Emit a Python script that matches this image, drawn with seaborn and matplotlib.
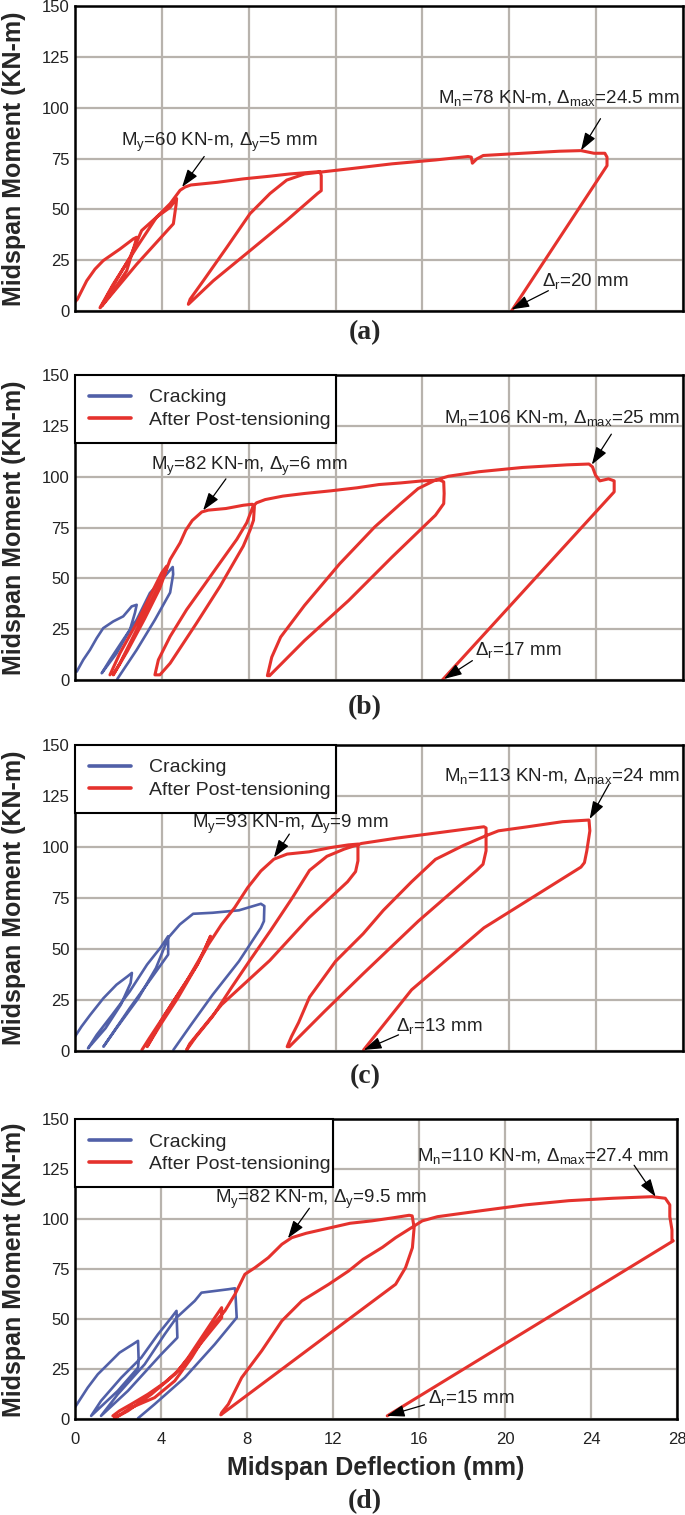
import matplotlib
matplotlib.use('Agg')
import pandas as pd
import matplotlib.pyplot as plt
from matplotlib.lines import Line2D
import seaborn as sns

# ---- data: midspan deflection (mm) vs moment (kN-m) ----
# (a) control beam, red only
a_red_x = [0.0, 0.11, 0.54, 0.92, 1.30, 2.07, 2.69, 2.84, 2.76, 2.38, 1.76, 1.23,
           1.61, 2.53, 3.07, 3.76, 4.38, 4.68,
           4.65, 4.53, 2.84, 1.30, 1.15,
           1.76, 2.84, 3.76, 4.38, 4.84, 5.07,
           5.34, 6.55, 7.75, 8.96, 9.87, 11.28,
           11.34, 11.34, 11.18, 9.75, 8.06, 6.37, 5.22,
           5.30, 5.91, 6.99, 8.06, 8.98, 9.75, 10.57, 11.28,
           12.6, 14.6, 16.6, 18.1, 18.25, 18.3, 18.5, 18.8, 20.6, 22.3, 23.3, 23.9,
           24.4, 24.5, 24.5, 20.1]
a_red_y = [4.5, 5.8, 14.9, 20.6, 24.8, 30.5, 35.5, 36.3, 33.0, 19.8, 9.9, 2.5,
           9.9, 26.4, 39.6, 46.2, 51.0, 55.3,
           52.0, 42.9, 23.0, 3.3, 1.6,
           13.2, 31.3, 46.2, 52.8, 59.4, 61.0,
           62.0, 63.3, 65.0, 66.3, 67.4, 68.6,
           66.6, 59.2, 57.9, 44.6, 29.7, 14.9, 3.3,
           5.8, 14.9, 31.3, 47.9, 57.8, 64.4, 67.4, 68.3,
           69.9, 72.4, 74.3, 76.0, 75.7, 72.7, 74.8, 76.5, 77.6, 78.6, 78.9, 77.6,
           77.6, 75.7, 71.5, 0.0]

# (b)
b_blue_x = [0.08, 0.38, 0.69, 1.00, 1.30, 1.76, 2.22, 2.61, 2.84, 2.76, 2.53, 1.92, 1.46, 1.23,
            1.61, 2.22, 2.84, 3.45, 4.07, 4.50, 4.52, 4.38, 3.68, 2.84, 1.95]
b_blue_y = [4.1, 9.9, 14.8, 20.6, 25.5, 28.8, 31.3, 36.2, 37.0, 33.0, 24.7, 13.2, 6.6, 3.3,
            9.9, 19.8, 29.6, 42.8, 50.2, 55.6, 52.0, 43.0, 29.6, 14.8, 0.5]
b_red_x = [1.61, 2.07, 2.84, 3.45, 3.99, 4.22, 4.15, 3.61, 2.84, 2.07, 1.76,
           2.40, 3.20, 3.90, 4.38, 4.84, 5.10, 5.40, 5.84, 6.14, 6.95, 7.75, 8.16,
           8.26, 8.22, 8.06, 7.75, 6.68, 5.60, 4.38, 3.91, 3.68,
           3.84, 4.38, 5.14, 5.91, 6.68, 7.45, 7.91, 8.20,
           8.36, 8.76, 9.57, 10.57, 11.78, 12.99, 14.0, 15.0, 16.0, 16.8, 16.98,
           17.0, 16.98, 16.6, 14.6, 12.6, 10.57, 8.96, 8.86,
           9.06, 9.47, 10.57, 12.19, 13.8, 15.0, 15.8, 16.6, 17.2,
           18.6, 20.6, 22.66, 23.67, 23.83, 23.97, 24.17, 24.57, 24.83, 24.83, 16.92]
b_red_y = [2.5, 13.2, 28.0, 41.2, 52.7, 56.0, 52.7, 41.2, 24.7, 8.2, 2.5,
           14.0, 30.0, 45.0, 59.3, 67.5, 73.7, 78.5, 82.7, 83.6, 84.4, 86.0, 86.5,
           85.2, 78.6, 73.7, 65.9, 46.1, 28.0, 8.2, 2.5, 2.5,
           9.9, 21.4, 34.6, 46.1, 57.7, 69.2, 77.4, 85.5,
           87.2, 88.8, 90.5, 91.8, 93.1, 94.6, 96.2, 97.0, 98.0, 98.4, 97.5,
           91.8, 86.8, 81.1, 60.5, 39.1, 19.4, 2.1, 2.1,
           11.2, 21.1, 36.7, 57.2, 75.3, 86.8, 94.2, 98.4, 100.3,
           102.5, 104.6, 105.9, 106.3, 104.9, 100.8, 98.0, 99.0, 98.0, 92.6, 0.0]

# (c)
c_blue_x = [0.0, 0.3, 0.7, 1.31, 1.91, 2.42, 2.62, 2.56, 2.11, 1.41, 0.6,
            1.0, 1.71, 2.52, 3.32, 3.93, 4.29,
            4.29, 3.52, 2.52, 1.31,
            1.91, 2.92, 3.73, 4.29, 4.83, 5.44, 6.34, 7.55, 8.56, 8.72, 8.70, 8.56,
            7.55, 6.34, 5.34, 4.53]
c_blue_y = [7.1, 12.0, 17.7, 25.9, 32.5, 36.6, 38.3, 33.3, 22.7, 11.2, 1.3,
            7.9, 17.7, 29.2, 42.4, 50.6, 56.3,
            47.3, 35.8, 21.0, 2.1,
            11.2, 25.9, 40.7, 55.5, 62.1, 67.3, 67.8, 69.0, 72.2, 71.1, 63.7, 60.4,
            44.0, 27.6, 12.8, 0.5]
c_red_x = [3.08, 3.42, 4.13, 4.93, 5.64, 6.14, 6.24,
           5.94, 5.14, 4.13, 3.32,
           3.93, 4.73, 5.54, 6.14, 6.75, 7.35, 7.95, 8.56, 9.16, 9.77, 10.78, 11.78, 12.59, 13.03,
           13.03, 12.92, 12.55, 10.78, 8.97, 6.75, 5.28, 5.14,
           5.54, 6.34, 7.20, 8.05, 9.00, 10.0, 10.8, 11.6, 12.39, 13.19,
           14.8, 16.82, 18.03, 18.83, 18.93,
           18.93, 18.79, 18.5, 15.81, 13.27, 11.5, 9.87, 9.77,
           9.97, 10.3, 10.8, 12.0, 13.27, 14.2, 15.5, 16.6, 17.9, 18.9, 19.5, 20.85, 22.46, 23.67,
           23.71, 23.57, 23.46, 23.3, 18.83, 15.5, 13.29]
c_red_y = [0.5, 6.2, 17.7, 30.9, 42.4, 53.9, 56.3,
           48.9, 34.2, 17.7, 2.1,
           12.8, 25.9, 40.7, 52.2, 62.1, 70.3, 80.1, 88.3, 94.1, 96.6, 97.7, 99.8, 101.1, 101.5,
           93.3, 88.0, 83.0, 65.4, 44.4, 22.7, 3.5, 0.5,
           6.5, 17.0, 31.0, 44.4, 59.0, 75.0, 88.6, 95.5, 99.0, 101.8,
           104.4, 107.2, 108.9, 110.0, 109.4,
           98.2, 91.6, 88.6, 63.7, 37.9, 19.5, 2.1, 2.1,
           7.1, 14.0, 26.4, 44.0, 57.5, 69.0, 83.0, 94.0, 100.9, 105.5, 108.0, 110.0, 112.5, 113.3,
           108.0, 98.2, 92.4, 90.2, 60.4, 30.0, 0.5]

# (d)
d_blue_x = [0.0, 0.09, 0.59, 1.06, 1.53, 2.07, 2.69, 2.93, 2.96, 2.93, 1.99, 0.75,
            1.21, 2.15, 3.08, 3.86, 4.48, 4.72,
            4.76, 4.01, 2.46, 1.21,
            1.99, 3.24, 4.17, 4.72, 5.57, 5.88, 7.13, 7.44, 7.47, 7.52, 6.50, 5.10, 3.70, 2.93]
d_blue_y = [6.0, 7.5, 15.8, 22.5, 27.5, 33.3, 37.5, 39.2, 29.2, 25.8, 14.2, 1.7,
            9.2, 20.8, 30.8, 42.5, 50.8, 54.2,
            40.8, 32.5, 14.2, 1.7,
            12.5, 27.5, 42.5, 50.8, 59.2, 63.3, 65.0, 65.5, 60.8, 50.8, 37.5, 20.8, 7.5, 0.5]
d_red_x = [1.76, 2.07, 2.61, 3.39, 4.17, 4.79, 5.26, 5.88, 6.50, 6.82,
           6.82, 6.19, 5.57, 4.64, 3.55, 2.46, 1.83,
           2.61, 3.70, 4.64, 5.42, 6.19, 6.97, 7.44, 7.90, 8.37, 8.99, 9.62, 10.08,
           10.75, 11.77, 12.79, 13.80, 14.83, 15.54, 15.68,
           15.77, 15.69, 15.37, 14.91, 13.35, 6.78,
           6.82, 7.13, 7.75, 8.68, 9.62, 10.55, 11.80, 12.73, 13.40, 14.30, 14.91, 16.15, 16.86,
           18.9, 20.94, 22.97, 25.0, 26.84, 27.45, 27.66, 27.66, 27.76, 27.76, 27.82, 14.52]
d_red_y = [1.7, 4.2, 7.5, 12.5, 18.3, 24.2, 30.8, 40.8, 50.8, 55.8,
           50.8, 42.5, 34.2, 22.5, 12.5, 4.2, 0.5,
           5.8, 10.8, 19.2, 30.8, 44.2, 54.2, 62.5, 72.5, 75.8, 80.8, 87.5, 90.8,
           93.0, 95.5, 98.0, 99.2, 100.8, 102.0, 101.7,
           95.8, 85.8, 75.8, 67.5, 55.0, 2.2,
           3.3, 7.5, 20.8, 34.2, 49.2, 59.2, 67.5, 74.2, 80.0, 86.0, 90.8, 99.2, 101.3,
           104.3, 107.2, 109.3, 110.5, 111.3, 110.5, 107.2, 101.3, 94.7, 89.7, 89.2, 1.7]

series_names = ['Cracking', 'After Post-tensioning']
x_ticks = [0, 4, 8, 12, 16, 20, 24, 28]
y_ticks = [0, 25, 50, 75, 100, 125, 150]

# annotation texts per panel: (yield, nominal, residual)
notes = {
    'a': ['M$_\\mathregular{y}$=60 KN-m, Δ$_\\mathregular{y}$=5 mm',
          'M$_\\mathregular{n}$=78 KN-m, Δ$_\\mathregular{max}$=24.5 mm',
          'Δ$_\\mathregular{r}$=20 mm'],
    'b': ['M$_\\mathregular{y}$=82 KN-m, Δ$_\\mathregular{y}$=6 mm',
          'M$_\\mathregular{n}$=106 KN-m, Δ$_\\mathregular{max}$=25 mm',
          'Δ$_\\mathregular{r}$=17 mm'],
    'c': ['M$_\\mathregular{y}$=93 KN-m, Δ$_\\mathregular{y}$=9 mm',
          'M$_\\mathregular{n}$=113 KN-m, Δ$_\\mathregular{max}$=24 mm',
          'Δ$_\\mathregular{r}$=13 mm'],
    'd': ['M$_\\mathregular{y}$=82 KN-m, Δ$_\\mathregular{y}$=9.5 mm',
          'M$_\\mathregular{n}$=110 KN-m, Δ$_\\mathregular{max}$=27.4 mm',
          'Δ$_\\mathregular{r}$=15 mm'],
}

RED = '#e5322d'
BLUE = '#5160a8'

sns.set_theme(style='white')
plt.rcParams['font.family'] = ['Liberation Sans', 'DejaVu Sans']
plt.rcParams['mathtext.default'] = 'regular'

fig = plt.figure(figsize=(6.85, 15.15), dpi=100)

# axes boxes [left, bottom, width, height] in figure fraction
boxes = {
    'a': [0.1095, 0.7947, 0.8876, 0.2013],
    'b': [0.1095, 0.5512, 0.8876, 0.2011],
    'c': [0.1095, 0.3063, 0.8876, 0.2018],
    'd': [0.1095, 0.0632, 0.8790, 0.1980],
}
label_y = {'a': 0.7805, 'b': 0.533, 'c': 0.2894, 'd': 0.0088}

panels = {
    'a': (None, None, a_red_x, a_red_y),
    'b': (b_blue_x, b_blue_y, b_red_x, b_red_y),
    'c': (c_blue_x, c_blue_y, c_red_x, c_red_y),
    'd': (d_blue_x, d_blue_y, d_red_x, d_red_y),
}

# text anchor (left, center) and arrow tail/head for each note, in data units
note_pos = {
    'a': [((2.1, 83), (5.95, 76), (4.93, 61)),
          ((16.7, 105), (24.2, 94.6), (23.3, 79)),
          ((21.5, 14.8), (21.8, 10), (20.1, 0.8))],
    'b': [((3.5, 105), (6.95, 99), (5.9, 83.5)),
          ((17.0, 128.8), (24.7, 121), (23.8, 106)),
          ((18.4, 14.5), (18.3, 9.5), (17.0, 0.5))],
    'c': [((5.4, 111.3), (9.87, 106.4), (9.16, 94.9)),
          ((17.0, 135), (24.6, 131), (23.7, 113.8)),
          ((14.8, 12), (14.9, 7.9), (13.3, 0.5))],
    'd': [((6.5, 110), (10.9, 105.5), (9.9, 90.5)),
          ((15.9, 131.7), (26.0, 127), (27.0, 111.3)),
          ((16.4, 10.5), (16.25, 7.2), (14.5, 1.7))],
}

for key in ['a', 'b', 'c', 'd']:
    ax = fig.add_axes(boxes[key])
    bx, by, rx, ry = panels[key]

    if bx is not None:
        df_b = pd.DataFrame({'defl': bx, 'moment': by})
        sns.lineplot(data=df_b, x='defl', y='moment', sort=False, estimator=None,
                     color=BLUE, linewidth=1.9, ax=ax, zorder=3)
    df_r = pd.DataFrame({'defl': rx, 'moment': ry})
    sns.lineplot(data=df_r, x='defl', y='moment', sort=False, estimator=None,
                 color=RED, linewidth=2.2, ax=ax, zorder=4)

    ax.set_xlim(0, 28)
    ax.set_ylim(0, 150)
    ax.set_xticks(x_ticks)
    ax.set_yticks(y_ticks)
    ax.set_axisbelow(True)
    ax.grid(True, color='#b8b3ad', linewidth=1.6)
    for sp in ax.spines.values():
        sp.set_color('black')
        sp.set_linewidth(1.8)
        sp.set_zorder(5)
    ax.tick_params(axis='both', length=0, labelsize=12, colors='#222222')
    ax.tick_params(axis='y', pad=4)
    ax.tick_params(axis='x', pad=9)
    ax.set_ylabel('Midspan Moment (KN-m)', fontsize=18, fontweight='bold')
    ax.yaxis.set_label_coords(-0.081, 0.5)
    if key == 'd':
        ax.set_xlabel('Midspan Deflection (mm)', fontsize=18, fontweight='bold', labelpad=7)
    else:
        ax.set_xticklabels([])
        ax.set_xlabel('')

    for text, (tpos, tail, head) in zip(notes[key], note_pos[key]):
        ax.text(tpos[0], tpos[1], text, fontsize=13.5, ha='left', va='center',
                color='#222222', zorder=6)
        ax.annotate('', xy=head, xytext=tail,
                    arrowprops=dict(arrowstyle='-|>,head_length=0.9,head_width=0.3',
                                    color='black', lw=0.9, shrinkA=0, shrinkB=0),
                    zorder=6)

    if bx is not None:
        handles = [Line2D([], [], color=BLUE, lw=2.6), Line2D([], [], color=RED, lw=2.6)]
        leg = ax.legend(handles, series_names, loc='upper left',
                        bbox_to_anchor=(0, 0, 12 / 28, 1), mode='expand',
                        borderaxespad=0, fontsize=14, frameon=True, fancybox=False,
                        framealpha=1, edgecolor='black', handlelength=2.2,
                        handletextpad=0.9, borderpad=0.7, labelspacing=0.25)
        leg.get_frame().set_linewidth(1.5)
        leg.set_zorder(7)

    fig.text(0.533, label_y[key], '(%s)' % key, ha='center', va='center',
             fontsize=20, fontweight='bold', family=['Liberation Serif', 'DejaVu Serif'])

fig.savefig('out.png', dpi=100)
